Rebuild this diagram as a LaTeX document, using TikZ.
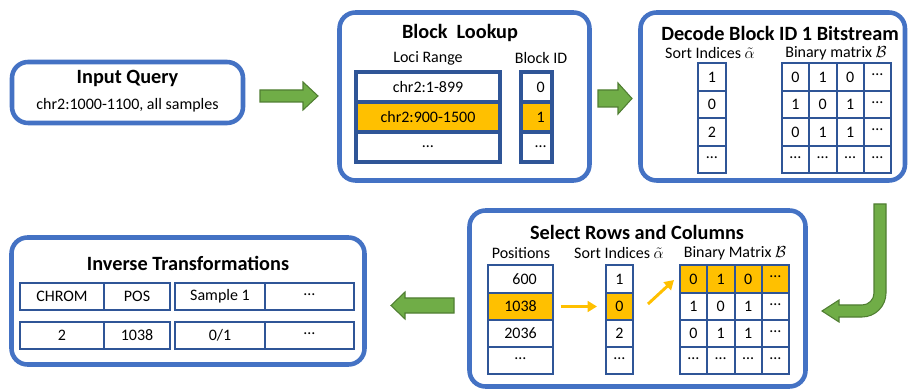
\documentclass[tikz,border=0pt]{standalone}
\usepackage{fontspec}
\setmainfont{Carlito}
\usetikzlibrary{arrows.meta}
\definecolor{panelblue}{HTML}{4472C4}
\definecolor{tblue}{HTML}{2F5597}
\definecolor{hl}{HTML}{FFC000}
\definecolor{gfill}{HTML}{70AD47}
\definecolor{gline}{HTML}{507E32}
\newcommand{\titlefont}{\fontsize{15.2}{17}\selectfont\bfseries}
\newcommand{\bodyfont}{\fontsize{12}{14}\selectfont}
\newcommand{\mdots}{\raisebox{0.25em}{…}}
\newcommand{\cellat}[7][]{\node[tcell,#1,minimum width={(#5-#3)*0.75pt},minimum height={(#6-#4)*0.75pt}] (#2) at ({(#3+#5)/2},{(#4+#6)/2}) {#7};}
\newcommand{\panelat}[5]{\node[panel,minimum width={(#4-#2)*0.75pt},minimum height={(#5-#3)*0.75pt}] (#1) at ({(#2+#4)/2},{(#3+#5)/2}) {};}
\newcommand{\mrow}[8][]{%
  \cellat[#1]{#2a}{\xA}{#3}{\xB}{#4}{#5}
  \cellat[#1]{#2b}{\xB}{#3}{\xC}{#4}{#6}
  \cellat[#1]{#2c}{\xC}{#3}{\xD}{#4}{#7}
  \cellat[#1]{#2d}{\xD}{#3}{\xE}{#4}{#8}}
\begin{document}
\begin{tikzpicture}[x=0.75pt,y=-0.75pt,
  tcell/.style={draw=tblue, line width=1.5pt, inner sep=0pt, font=\bodyfont, fill=white},
  thickcell/.style={line width=2.3pt},
  hlcell/.style={fill=hl},
  panel/.style={draw=panelblue, line width=3.4pt, rounded corners=12pt, inner sep=0pt, fill=white},
  title/.style={font=\titlefont, inner sep=0pt},
  lbl/.style={font=\bodyfont, inner sep=0pt},
  garrow/.style={fill=gfill, draw=gline, line width=0.8pt, line join=miter},
  yarrow/.style={draw=hl, line width=2.2pt, -{Triangle[length=7pt,width=8pt]}}]
\useasboundingbox (0,0) rectangle (909,391);

% ---------- panels
\panelat{pin}{12}{62}{243}{123}
\panelat{pblock}{339.5}{12.5}{589.5}{180.5}
\panelat{pdecode}{640.5}{12.5}{905}{180.5}
\panelat{pselect}{469.5}{210.5}{805.5}{386.5}
\panelat{pinv}{11.5}{237.5}{364.5}{364.5}

% ---------- Input Query
\node[title] (tin) at (127.5,78) {Input Query};
\node[lbl] (qin) at (127.5,105) {chr2:1000-1100, all samples};

% ---------- Block Lookup
\node[title] (tblock) at (460,33) {Block~~Lookup};
\node[lbl] (hloci) at (428,58) {Loci Range};
\node[lbl] (hbid) at (541,58) {Block ID};
\cellat[thickcell]{l1}{356}{72}{500}{102}{chr2:1-899}
\cellat[thickcell,hlcell]{l2}{356}{102}{500}{132}{chr2:900-1500}
\cellat[thickcell]{l3}{356}{132}{500}{162}{…}
\cellat[thickcell]{b1}{521}{72}{552}{102}{\hphantom{0}0}
\cellat[thickcell,hlcell]{b2}{521}{102}{552}{132}{\hphantom{0}1}
\cellat[thickcell]{b3}{521}{132}{552}{162}{\hphantom{0}…}

% ---------- Decode Block ID 1 Bitstream
\node[title] (tdecode) at (780,33) {Decode Block ID 1 Bitstream};
\node[lbl] (hdsort) at (710,53) {Sort Indices $\tilde{\alpha}$};
\node[lbl] (hdbin) at (836,53) {Binary matrix $\mathcal{B}$};
\cellat{ds1}{698}{63}{726}{91}{1}
\cellat{ds2}{698}{91}{726}{118}{0}
\cellat{ds3}{698}{118}{726}{146}{2}
\cellat{ds4}{698}{146}{726}{173}{\mdots}
\def\xA{782}\def\xB{809}\def\xC{836.5}\def\xD{864}\def\xE{891}
\mrow{dm1}{63}{91}{0}{1}{0}{\mdots}
\mrow{dm2}{91}{118}{1}{0}{1}{\mdots}
\mrow{dm3}{118}{146}{0}{1}{1}{\mdots}
\mrow{dm4}{146}{173}{\mdots}{\mdots}{\mdots}{\mdots}

% ---------- Select Rows and Columns
\node[title] (tselect) at (637,232) {Select Rows and Columns};
\node[lbl] (hpos) at (521,253) {Positions};
\node[lbl] (hssort) at (619,253) {Sort Indices $\tilde{\alpha}$};
\node[lbl] (hsbin) at (735,253) {Binary Matrix $\mathcal{B}$};
\cellat{p1}{488}{265}{553}{293}{\hphantom{0}600}
\cellat[hlcell]{p2}{488}{293}{553}{320}{1038}
\cellat{p3}{488}{320}{553}{347}{2036}
\cellat{p4}{488}{347}{553}{374}{\mdots}
\cellat{s1}{606}{265}{633}{293}{1}
\cellat[hlcell]{s2}{606}{293}{633}{320}{0}
\cellat{s3}{606}{320}{633}{347}{2}
\cellat{s4}{606}{347}{633}{374}{\mdots}
\def\xA{680}\def\xB{707}\def\xC{734.5}\def\xD{762}\def\xE{789}
\mrow[hlcell]{sm1}{265}{293}{0}{1}{0}{\mdots}
\mrow{sm2}{293}{320}{1}{0}{1}{\mdots}
\mrow{sm3}{320}{347}{0}{1}{1}{\mdots}
\mrow{sm4}{347}{374}{\mdots}{\mdots}{\mdots}{\mdots}
\draw[yarrow, shorten <=5pt, shorten >=6pt] (p2.east) -- (s2.west);
\coordinate (ya) at (648,304);
\coordinate (yb) at (674,280);
\draw[yarrow] (ya) -- (yb);

% ---------- Inverse Transformations
\node[title] (tinv) at (188,263) {Inverse Transformations};
\cellat{i11}{20}{283}{104}{310}{CHROM}
\cellat{i12}{104}{283}{170}{310}{POS}
\cellat{i13}{175}{283}{265}{310}{Sample 1}
\cellat{i14}{265}{283}{354}{310}{\mdots}
\cellat{i21}{20}{322}{104}{349}{2}
\cellat{i22}{104}{322}{170}{349}{1038}
\cellat{i23}{175}{322}{265}{349}{0/1}
\cellat{i24}{265}{322}{354}{349}{\mdots}

% ---------- green block arrows
\draw[garrow] (260,90) -- (303,90) -- (303,82) -- (318,96) -- (303,110) -- (303,102) -- (260,102) -- cycle;
\draw[garrow] (598,90) -- (618,90) -- (618,83) -- (632,98.5) -- (618,114) -- (618,107) -- (598,107) -- cycle;
\draw[garrow] (454,298) -- (405,298) -- (405,292) -- (391,305.5) -- (405,319) -- (405,313) -- (454,313) -- cycle;
\draw[garrow] (874,204) -- (886,204) -- (886,293) arc[start angle=0,end angle=90,radius=24]
  -- (839,317) -- (839,322) -- (822,311) -- (839,300) -- (839,305) -- (862,305)
  arc[start angle=90,end angle=0,radius=12] -- cycle;
\end{tikzpicture}
\end{document}
